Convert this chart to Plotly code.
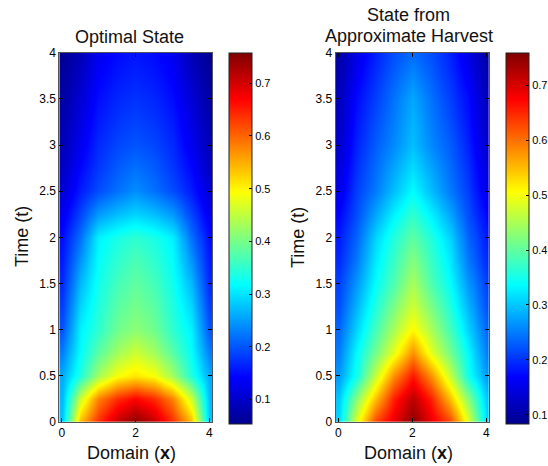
import plotly.graph_objects as go

W, H = 548, 466

# Grid (domain x, time t)
x_vals = [0, 0.5, 1, 1.5, 2, 2.5, 3, 3.5, 4]
t_vals = [0, 0.25, 0.5, 0.75, 1, 1.25, 1.5, 1.75, 2, 2.25, 2.5, 2.75, 3, 3.25, 3.5, 3.75, 4]

# Optimal State (rows = t, cols = x)
z_optimal = [
    [0.28, 0.54, 0.64, 0.71, 0.75, 0.71, 0.64, 0.54, 0.28],
    [0.27, 0.46, 0.58, 0.64, 0.67, 0.64, 0.58, 0.46, 0.27],
    [0.26, 0.34, 0.43, 0.49, 0.51, 0.49, 0.43, 0.34, 0.26],
    [0.23, 0.32, 0.38, 0.43, 0.46, 0.43, 0.38, 0.32, 0.23],
    [0.20, 0.31, 0.35, 0.395, 0.415, 0.395, 0.35, 0.31, 0.20],
    [0.185, 0.29, 0.34, 0.38, 0.40, 0.38, 0.34, 0.29, 0.185],
    [0.17, 0.27, 0.33, 0.365, 0.385, 0.365, 0.33, 0.27, 0.17],
    [0.16, 0.245, 0.32, 0.35, 0.37, 0.35, 0.32, 0.245, 0.16],
    [0.15, 0.22, 0.31, 0.335, 0.35, 0.335, 0.31, 0.22, 0.15],
    [0.13, 0.19, 0.25, 0.275, 0.29, 0.275, 0.25, 0.19, 0.13],
    [0.11, 0.16, 0.195, 0.22, 0.24, 0.22, 0.195, 0.16, 0.11],
    [0.095, 0.145, 0.18, 0.205, 0.22, 0.205, 0.18, 0.145, 0.095],
    [0.085, 0.13, 0.17, 0.19, 0.20, 0.19, 0.17, 0.13, 0.085],
    [0.078, 0.12, 0.16, 0.178, 0.188, 0.178, 0.16, 0.12, 0.078],
    [0.07, 0.11, 0.15, 0.168, 0.176, 0.168, 0.15, 0.11, 0.07],
    [0.064, 0.097, 0.14, 0.157, 0.165, 0.157, 0.14, 0.097, 0.064],
    [0.058, 0.085, 0.13, 0.148, 0.155, 0.148, 0.13, 0.085, 0.058],
]

# State from Approximate Harvest
z_approx = [
    [0.31, 0.49, 0.63, 0.69, 0.75, 0.69, 0.63, 0.49, 0.31],
    [0.30, 0.43, 0.55, 0.655, 0.72, 0.655, 0.55, 0.43, 0.30],
    [0.27, 0.35, 0.47, 0.58, 0.66, 0.58, 0.47, 0.35, 0.27],
    [0.25, 0.337, 0.415, 0.49, 0.58, 0.49, 0.415, 0.337, 0.25],
    [0.236, 0.31, 0.384, 0.45, 0.51, 0.45, 0.384, 0.31, 0.236],
    [0.22, 0.29, 0.36, 0.42, 0.475, 0.42, 0.36, 0.29, 0.22],
    [0.21, 0.27, 0.34, 0.39, 0.45, 0.39, 0.34, 0.27, 0.21],
    [0.195, 0.25, 0.325, 0.375, 0.425, 0.375, 0.325, 0.25, 0.195],
    [0.185, 0.236, 0.31, 0.36, 0.40, 0.36, 0.31, 0.236, 0.185],
    [0.17, 0.22, 0.28, 0.33, 0.37, 0.33, 0.28, 0.22, 0.17],
    [0.15, 0.21, 0.25, 0.295, 0.337, 0.295, 0.25, 0.21, 0.15],
    [0.14, 0.20, 0.24, 0.278, 0.315, 0.278, 0.24, 0.20, 0.14],
    [0.13, 0.19, 0.23, 0.26, 0.295, 0.26, 0.23, 0.19, 0.13],
    [0.122, 0.182, 0.22, 0.252, 0.288, 0.252, 0.22, 0.182, 0.122],
    [0.115, 0.175, 0.21, 0.245, 0.28, 0.245, 0.21, 0.175, 0.115],
    [0.107, 0.162, 0.20, 0.232, 0.26, 0.232, 0.20, 0.162, 0.107],
    [0.10, 0.15, 0.19, 0.22, 0.24, 0.22, 0.19, 0.15, 0.10],
]

cmin_left, cmax_left = 0.054, 0.758
cmin_right, cmax_right = 0.084, 0.759
x_ticks = [0, 2, 4]

jet = [
    [0.0, "rgb(0,0,143)"],
    [0.125, "rgb(0,0,255)"],
    [0.375, "rgb(0,255,255)"],
    [0.625, "rgb(255,255,0)"],
    [0.875, "rgb(255,0,0)"],
    [1.0, "rgb(128,0,0)"],
]

FONT = "Liberation Sans, Arial, Helvetica, sans-serif"

def px_x(p):
    return p / W

def px_y(p):
    return 1 - p / H

def cbar(xleft):
    return dict(
        x=px_x(xleft), xanchor="left", xpad=0, ypad=0,
        y=px_y(238.2), yanchor="middle",
        thickness=23, thicknessmode="pixels",
        len=371, lenmode="pixels",
        outlinecolor="#222", outlinewidth=1,
        ticks="inside", ticklen=3, tickcolor="black",
        tick0=0, dtick=0.1,
        tickfont=dict(family=FONT, size=11, color="black"),
    )

fig = go.Figure()
fig.add_trace(go.Heatmap(
    x=x_vals, y=t_vals, z=z_optimal, zsmooth="best",
    colorscale=jet, zmin=cmin_left, zmax=cmax_left,
    xaxis="x", yaxis="y", colorbar=cbar(229), hoverinfo="skip",
))
fig.add_trace(go.Heatmap(
    x=x_vals, y=t_vals, z=z_approx, zsmooth="best",
    colorscale=jet, zmin=cmin_right, zmax=cmax_right,
    xaxis="x2", yaxis="y2", colorbar=cbar(506.3), hoverinfo="skip",
))

ax_common = dict(
    showline=True, mirror="ticks", linecolor="#555", linewidth=1,
    ticks="inside", ticklen=4, tickcolor="black",
    showgrid=False, zeroline=False,
    tickfont=dict(family=FONT, size=12, color="black"),
)
ydom = [px_y(422), px_y(52.7)]

fig.update_layout(
    width=W, height=H,
    margin=dict(l=0, r=0, t=0, b=0, autoexpand=False),
    paper_bgcolor="white", plot_bgcolor="white",
    showlegend=False,
    xaxis=dict(domain=[px_x(59.3), px_x(212)], range=[-0.07, 4.07],
               tickvals=x_ticks, anchor="y", **ax_common),
    yaxis=dict(domain=ydom, range=[0, 4], dtick=0.5, anchor="x", **ax_common),
    xaxis2=dict(domain=[px_x(335.7), px_x(489)], range=[-0.07, 4.07],
                tickvals=x_ticks, anchor="y2", **ax_common),
    yaxis2=dict(domain=ydom, range=[0, 4], dtick=0.5, anchor="x2", **ax_common),
)

def ann(text, xp, yp, size=18, angle=0):
    fig.add_annotation(
        text=text, x=px_x(xp), y=px_y(yp), xref="paper", yref="paper",
        showarrow=False, xanchor="center", yanchor="middle", textangle=angle,
        font=dict(family=FONT, size=size, color="#111"),
    )

ann("Optimal State", 129.5, 37)
ann("State from", 408, 15)
ann("Approximate Harvest", 409, 36)
ann("Time (t)", 22, 237, angle=-90)
ann("Time (t)", 298, 237, angle=-90)
ann("Domain (<b>x</b>)", 131, 453)
ann("Domain (<b>x</b>)", 408, 453)

fig.write_html(
    "out.html",
    config={"displayModeBar": False, "staticPlot": True},
    post_script="document.body.style.margin='0px';document.body.style.overflow='hidden';",
)
